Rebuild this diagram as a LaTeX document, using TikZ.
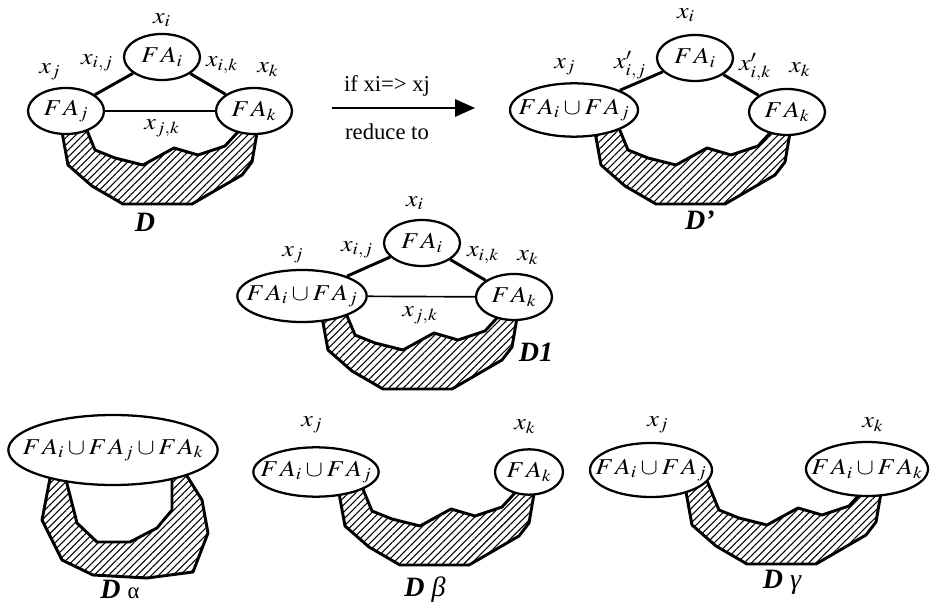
\documentclass[tikz,border=0pt]{standalone}
\usepackage{mathptmx}
\usepackage[no-math]{fontspec}
\setmainfont{Liberation Serif}
\usepackage{graphicx}
\usetikzlibrary{arrows.meta, shapes.geometric, patterns.meta}

% wide math, zero width so the ellipse keeps its own size
\newcommand{\wm}[1]{\makebox[0pt]{\scalebox{1.15}[1]{$#1$}}}
\newcommand{\FA}[1]{F\mkern1mu A_{#1}}

% hatched sub-graph hanging between two ellipses
\tikzset{
  region/.pic={
    \draw[hatch] (0,-16) -- (8,28) -- (32,49) -- (63,67) -- (132,67) -- (182,38) -- (192,25) -- (199,-16)
      -- (188,-16) -- (165,9) -- (138,18) -- (114,11) -- (83,28) -- (55,21) -- (35,13) -- (23,-16) -- cycle;
  }
}

\begin{document}
\begin{tikzpicture}[x=0.75pt, y=-0.75pt,
  fa/.style={draw, ellipse, line width=1.7pt, fill=white, inner sep=0pt, minimum width=57pt, minimum height=34.5pt, font=\fontsize{17}{20}\selectfont},
  ufa/.style={fa, minimum width=96pt, minimum height=40pt},
  var/.style={inner sep=1pt, font=\fontsize{17}{20}\selectfont},
  txt/.style={font=\fontsize{17}{20}\selectfont},
  dlabel/.style={font=\fontsize{21}{24}\selectfont\bfseries\itshape},
  strong/.style={line width=2.2pt},
  weak/.style={line width=1.25pt},
  hatch/.style={line width=2.2pt, line join=round, pattern={Lines[angle=45,distance=3.8pt,line width=0.8pt]}}]
\useasboundingbox (0,0) rectangle (931,605);

% --- D ---
\pic at (60,137) {region};
\node[fa] (di) at (162,57) {\wm{\FA{i}}};
\node[fa] (dj) at (66,111) {\wm{\FA{j}}};
\node[fa] (dk) at (254,111) {\wm{\FA{k}}};
\draw[strong] (di) -- (dj);
\draw[strong] (di) -- (dk);
\draw[weak] (dj) -- (dk);
\node[var] (dxi) at (162,20) {\wm{x_i}};
\node[var] (dxij) at (97,63) {\wm{x_{i,j}}};
\node[var] (dxik) at (222,65) {\wm{x_{i,k}}};
\node[var] (dxj) at (50,72) {\wm{x_j}};
\node[var] (dxk) at (268,70) {\wm{x_k}};
\node[var] (dxjk) at (162,128) {\wm{x_{j,k}}};
\node[dlabel] (dname) at (145,222) {D};

% --- reduction arrow ---
\coordinate (rs) at (332,108);
\coordinate (re) at (475,108);
\draw[line width=1.5pt, -{Triangle[length=15pt,width=13pt]}] (rs) -- (re);
\node[txt] (cond) at (387,86) {if xi=> xj};
\node[txt] (red) at (387,132) {reduce to};

% --- D' ---
\pic at (593,137) {region};
\node[ufa] (pj) at (574,110) {\wm{\FA{i}\cup\FA{j}}};
\node[fa] (pi) at (695,58) {\wm{\FA{i}}};
\node[fa] (pk) at (787,112) {\wm{\FA{k}}};
\draw[strong] (pi) -- (pj);
\draw[strong] (pi) -- (pk);
\node[var] (pxi) at (686,15) {\wm{x_i}};
\node[var] (pxij) at (630,65) {\wm{x'_{i,j}}};
\node[var] (pxj) at (565,67) {\wm{x_j}};
\node[var] (pxik) at (755,67) {\wm{x'_{i,k}}};
\node[var] (pxk) at (800,70) {\wm{x_k}};
\node[dlabel] (pname) at (700,220) {D'};

% --- D1 ---
\pic at (320,322) {region};
\node[ufa, minimum width=97pt, minimum height=39pt] (aj) at (302,296) {\wm{\FA{i}\cup\FA{j}}};
\node[fa] (ai) at (422,243) {\wm{\FA{i}}};
\node[fa] (ak) at (514,297) {\wm{\FA{k}}};
\draw[strong] (ai) -- (aj);
\draw[strong] (ai) -- (ak);
\draw[weak] (aj) -- (ak);
\node[var] (axi) at (415,203) {\wm{x_i}};
\node[var] (axij) at (357,250) {\wm{x_{i,j}}};
\node[var] (axj) at (293,255) {\wm{x_j}};
\node[var] (axik) at (483,255) {\wm{x_{i,k}}};
\node[var] (axk) at (528,258) {\wm{x_k}};
\node[var] (axjk) at (420,315) {\wm{x_{j,k}}};
\node[dlabel] (aname) at (536,352) {D1};

% --- D alpha ---
\draw[hatch] (52,468) -- (42,520) -- (62,560) -- (93,575) -- (147,578) -- (193,572) -- (208,533) -- (202,500) -- (182,468)
  -- (172,468) -- (172,510) -- (157,528) -- (130,542) -- (97,542) -- (77,523) -- (63,468) -- cycle;
\node[fa, minimum width=157pt, minimum height=52.5pt] (all) at (113,450) {\wm{\FA{i}\cup\FA{j}\cup\FA{k}}};
\node[dlabel] (lname) at (120,589) {D {\mdseries\upshape\fontsize{17}{19}\selectfont α}};

% --- D beta ---
\pic at (337,498) {region};
\node[ufa, minimum width=94pt, minimum height=37pt] (bj) at (316,472) {\wm{\FA{i}\cup\FA{j}}};
\node[fa, minimum width=51pt, minimum height=34pt] (bk) at (529,472) {\wm{\FA{k}}};
\node[var] (bxj) at (312,425) {\wm{x_j}};
\node[var] (bxk) at (525,427) {\wm{x_k}};
\node[dlabel] (bname) at (425,590) {D {\mdseries β}};

% --- D gamma ---
\pic at (684,497) {region};
\node[ufa, minimum width=91.5pt, minimum height=40.5pt] (gj) at (651,470) {\wm{\FA{i}\cup\FA{j}}};
\node[ufa, minimum width=91.5pt, minimum height=40.5pt] (gk) at (867,469) {\wm{\FA{i}\cup\FA{k}}};
\node[var] (gxj) at (658,425) {\wm{x_j}};
\node[var] (gxk) at (873,425) {\wm{x_k}};
\node[dlabel] (gname) at (782,582) {D {\mdseries γ}};
\end{tikzpicture}
\end{document}
